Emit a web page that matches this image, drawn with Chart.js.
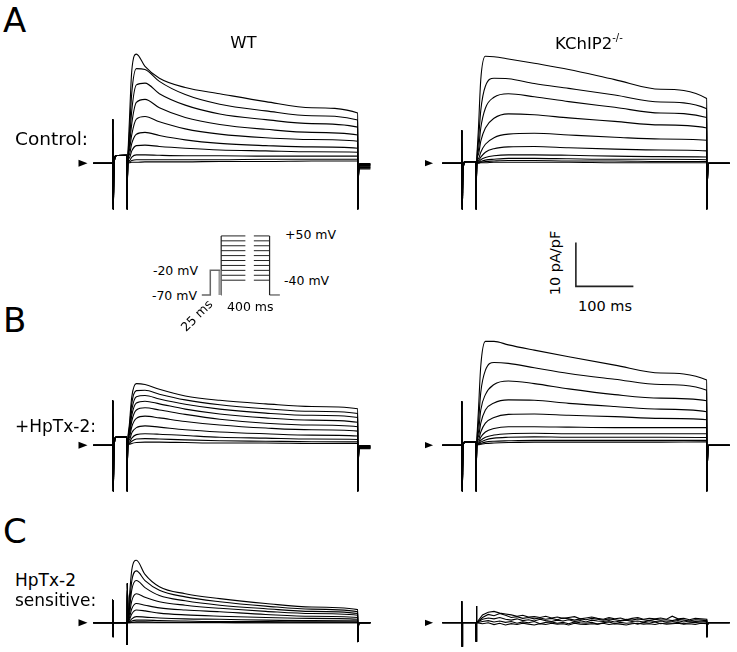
<!DOCTYPE html>
<html>
<head>
<meta charset="utf-8">
<script src="https://cdn.jsdelivr.net/npm/chart.js@4.4.1/dist/chart.umd.min.js"></script>
<style>
  html, body { margin: 0; padding: 0; background: #fff; overflow: hidden; }
  #fig { position: relative; width: 737px; height: 652px; font-family: "DejaVu Sans", Verdana, sans-serif; color: #000; }
  #fig canvas { position: absolute; }
  .lbl { position: absolute; white-space: nowrap; line-height: 1; }
</style>
</head>
<body>
<div id="fig"></div>
<script>
// sweep timing (ms)
const artT = [-60, -26.4, -26, -25.6, -25.1, -24.3, -23, -21, -1.6, -1.2, -0.6];
const stepT = [0, 3, 7, 15, 30, 55, 100, 160, 240, 320, 400];
const endT = [400.3, 401, 403];
const noiseT = [0, 10, 20, 30, 40, 50, 60, 70, 80, 90, 100, 110, 120, 130, 140, 150, 160, 170, 180, 190, 200,
  210, 220, 230, 240, 250, 260, 270, 280, 290, 300, 310, 320, 330, 340, 350, 360, 370, 380, 390, 400];

// A  Control, WT (pA/pF)
const wtCtrlArt = [0, 0, 10, -10.5, -10, -3, 0.8, 1.7, 1.8, -10.5, -4];
const wtCtrl = [
  [0, 10, 21, 24.8, 22, 19.3, 17.2, 15.8, 14.0, 12.6, 11.4],
  [0, 7, 16, 21.5, 21.3, 18.6, 15.6, 13.4, 11.9, 10.8, 9.8],
  [0, 5, 12, 17.8, 18.2, 15.8, 13.2, 11.2, 9.9, 9.0, 8.2],
  [0, 4, 9, 13.8, 14.5, 12.6, 10.4, 8.8, 7.7, 7.0, 6.4],
  [0, 3, 6.5, 10.0, 10.6, 9.4, 7.8, 6.6, 5.8, 5.4, 5.0],
  [0, 2, 4.5, 6.6, 7.0, 6.3, 5.3, 4.5, 4.0, 3.7, 3.4],
  [0, 1.2, 2.8, 4.0, 4.1, 3.8, 3.4, 3.0, 2.8, 2.6, 2.5],
  [0, 0.6, 1.4, 1.9, 1.9, 1.8, 1.7, 1.7, 1.6, 1.6, 1.6],
  [0, 0.3, 0.6, 0.8, 0.8, 0.8, 0.8, 0.8, 0.9, 0.9, 0.9],
  [0, 0.1, 0.2, 0.2, 0.3, 0.3, 0.3, 0.4, 0.4, 0.5, 0.5]
];
const wtCtrlEnd = [-10.5, -4];
const wtCtrlTail = [-1.3, -1.1, -0.95, -0.8, -0.65, -0.5, -0.4, -0.3, -0.2, -0.1];

// A  Control, KChIP2-/-
const koCtrlArt = [0, 0, 7.5, -10.5, -10, -3, -0.5, 0.3, 0.4, -10.5, -4];
const koCtrl = [
  [0, 8, 19, 24.3, 24.2, 23.7, 22.7, 21.3, 19.0, 16.8, 14.7],
  [0, 5, 12, 17.5, 19.3, 19.2, 18.1, 17.0, 15.5, 13.9, 12.4],
  [0, 3, 8, 12.5, 15.0, 15.8, 15.1, 14.0, 12.7, 11.4, 10.4],
  [0, 2, 5, 8, 10.2, 11.2, 11.0, 10.3, 9.5, 8.7, 8.0],
  [0, 1, 2.5, 4.3, 5.8, 6.6, 6.8, 6.4, 5.9, 5.5, 5.2],
  [0, 0.6, 1.4, 2.5, 3.3, 3.7, 3.8, 3.5, 3.2, 3.0, 2.8],
  [0, 0.3, 0.8, 1.3, 1.7, 1.9, 1.9, 1.8, 1.6, 1.5, 1.4],
  [0, 0.2, 0.4, 0.7, 0.9, 1.1, 1.1, 1.0, 0.9, 0.9, 0.8],
  [0, 0.1, 0.2, 0.4, 0.5, 0.6, 0.6, 0.5, 0.5, 0.4, 0.4],
  [0, 0, 0.1, 0.1, 0.2, 0.2, 0.2, 0.2, 0.1, 0.1, 0.1]
];
const koCtrlEnd = [-10.5, -5];
const koCtrlTail = [0, 0, 0, 0, 0, 0, 0, 0, 0, 0];

// B  +HpTx-2, WT
const wtHpArt = [0, 0, 10.2, -10.5, -10, -3, 0.8, 1.8, 1.9, -10.5, -4];
const wtHp = [
  [0, 5, 11, 14.0, 13.8, 12.7, 11.2, 10.2, 9.4, 8.8, 8.3],
  [0, 4, 9.5, 12.4, 12.5, 11.6, 10.3, 9.2, 8.3, 7.7, 7.2],
  [0, 3.5, 8, 11.0, 11.3, 10.5, 9.3, 8.2, 7.3, 6.8, 6.3],
  [0, 3, 6.8, 9.6, 10.0, 9.4, 8.2, 7.1, 6.2, 5.7, 5.2],
  [0, 2.4, 5.5, 8.0, 8.5, 8.0, 7.0, 5.9, 5.0, 4.6, 4.2],
  [0, 1.8, 4.2, 6.1, 6.6, 6.2, 5.4, 4.6, 3.9, 3.5, 3.2],
  [0, 1.2, 2.8, 4.0, 4.4, 4.1, 3.5, 3.0, 2.6, 2.3, 2.1],
  [0, 0.7, 1.6, 2.4, 2.6, 2.5, 2.2, 1.8, 1.6, 1.4, 1.3],
  [0, 0.4, 0.9, 1.4, 1.5, 1.4, 1.2, 1.0, 0.9, 0.8, 0.75],
  [0, 0.2, 0.4, 0.6, 0.7, 0.7, 0.6, 0.5, 0.5, 0.4, 0.4]
];
const wtHpEnd = [-10.5, -4];
const wtHpTail = [-0.8, -0.7, -0.65, -0.55, -0.5, -0.4, -0.3, -0.25, -0.15, -0.1];

// B  +HpTx-2, KChIP2-/-
const koHpArt = [0, 0, 10, -10.5, -10, -3, 0.3, 0.7, 0.75, -10.5, -4];
const koHp = [
  [0, 8, 18, 23.6, 23.6, 22.8, 21.6, 20.1, 18.2, 16.4, 14.8],
  [0, 5, 12, 17, 18.8, 18.6, 17.6, 16.3, 15.0, 13.8, 12.5],
  [0, 3, 8, 11.5, 13.8, 14.6, 14.0, 12.8, 11.5, 10.7, 10.1],
  [0, 2, 5, 8, 9.6, 10.3, 10.2, 9.5, 8.8, 8.2, 7.6],
  [0, 1.2, 3, 5, 6.3, 7.0, 7.1, 6.8, 6.5, 6.1, 5.8],
  [0, 0.7, 1.8, 3, 3.8, 4.2, 4.2, 4.1, 4.0, 4.0, 4.0],
  [0, 0.4, 1.1, 1.8, 2.3, 2.6, 2.7, 2.6, 2.6, 2.6, 2.6],
  [0, 0.3, 0.7, 1.2, 1.6, 1.8, 1.9, 1.8, 1.8, 1.8, 1.75],
  [0, 0.2, 0.4, 0.7, 0.9, 1.0, 1.1, 1.1, 1.1, 1.1, 1.1],
  [0, 0.1, 0.2, 0.4, 0.5, 0.6, 0.7, 0.7, 0.7, 0.7, 0.75]
];
const koHpEnd = [-10.5, -5];
const koHpTail = [0, 0, 0, 0, 0, 0, 0, 0, 0, 0];

// C  HpTx-2 sensitive, WT
const wtSensArt = [0, 0, 5.2, -3.2, -0.8, 0, 0, 0, 0, -5, 9];
const wtSens = [
  [0, 6, 12, 14.2, 11.0, 8.2, 6.6, 5.5, 4.4, 3.6, 3.0],
  [0, 4, 9.5, 11.8, 9.6, 7.4, 5.9, 4.8, 3.8, 3.1, 2.5],
  [0, 3, 7.5, 9.6, 8.0, 6.2, 5.0, 4.0, 3.2, 2.6, 2.1],
  [0, 2, 5, 6.6, 5.8, 4.8, 4.0, 3.3, 2.6, 2.1, 1.7],
  [0, 1.2, 3.2, 4.4, 4.0, 3.4, 2.9, 2.5, 1.9, 1.5, 1.2],
  [0, 0.7, 2.0, 2.9, 2.7, 2.2, 1.8, 1.5, 1.2, 1.0, 0.8],
  [0, 0.3, 0.9, 1.4, 1.3, 1.1, 0.9, 0.8, 0.6, 0.5, 0.45],
  [0, 0.1, 0.4, 0.6, 0.6, 0.5, 0.4, 0.3, 0.3, 0.2, 0.2],
  [0, 0, 0.1, 0.2, 0.2, 0.1, 0.1, 0.1, 0, 0, 0],
  [0, 0, 0, 0, 0, 0, 0, 0, 0, 0, 0]
];
const wtSensEnd = [-4.3, -1];
const wtSensTail = [0, 0, 0, 0, 0, 0, 0, 0, 0, 0];

// C  HpTx-2 sensitive, KChIP2-/-  (noisy, sampled every 10 ms)
const koSensArt = [0, 0, 4.9, -5.3, -1, 0, 0, 0, 0, -4.2, 3.8];
const koSens = [
  [0, 1.8, 2.4, 2.6, 2.2, 2.0, 1.8, 1.5, 1.7, 1.3, 1.4, 1.2, 1.5, 1.1, 1.3, 1.0, 1.2, 1.4, 0.9, 1.1, 1.3, 1.0, 0.8, 1.2, 0.9, 1.1, 0.7, 1.0, 1.2, 0.8, 1.0, 0.9, 1.1, 0.8, 1.5, 0.9, 1.0, 0.7, 1.0, 0.9, 0.8],
  [0, 1.2, 1.9, 1.6, 2.1, 1.7, 1.2, 1.4, 1.0, 1.2, 0.9, 1.1, 0.8, 1.0, 0.7, 1.1, 0.9, 0.6, 0.9, 0.7, 1.0, 0.8, 0.6, 0.9, 0.7, 0.5, 0.8, 0.6, 0.9, 0.7, 0.5, 0.8, 0.6, 0.7, 0.5, 0.8, 0.6, 0.4, 0.7, 0.6, 0.5],
  [0, 0.8, 1.1, 0.9, 1.2, 0.8, 0.6, 0.9, 0.5, 0.7, 0.4, 0.8, 0.5, 0.3, 0.6, 0.4, 0.7, 0.3, 0.5, 0.2, 0.6, 0.4, 0.3, 0.5, 0.2, 0.4, 0.6, 0.3, 0.4, 0.2, 0.5, 0.3, 0.4, 0.2, 0.3, 0.5, 0.2, 0.4, 0.3, 0.2, 0.3],
  [0, 0.3, 0.5, 0.2, 0.4, 0.1, 0.3, -0.1, 0.2, 0.0, 0.3, -0.2, 0.1, 0.2, -0.1, 0.1, -0.2, 0.2, 0.0, -0.1, 0.1, -0.3, 0.0, 0.2, -0.2, 0.1, -0.1, 0.0, -0.3, 0.1, -0.1, 0.2, -0.2, 0.0, -0.1, 0.1, -0.2, 0.0, 0.1, -0.1, 0.0],
  [0, -0.2, 0.0, -0.4, -0.1, -0.5, -0.2, -0.4, -0.1, -0.3, -0.5, -0.2, -0.4, -0.1, -0.3, -0.2, -0.5, -0.1, -0.3, -0.4, -0.2, -0.3, -0.1, -0.4, -0.2, -0.3, -0.5, -0.2, -0.1, -0.3, -0.2, -0.4, -0.1, -0.3, -0.2, -0.1, -0.3, -0.2, -0.4, -0.1, -0.2]
];
const koSensEnd = [-3.3, -0.5];
const koSensTail = [0, 0, 0, 0, 0];

// voltage protocol (schematic, mV)
const protoHold = -70;
const protoPre = -20;
const protoLevels = [50, 40, 30, 20, 10, 0, -10, -20, -30, -40];
const protoTimes = [-160, -90, -10, 0, 200, 270, 400, 485];

// scale bar
const barMs = 100;
const barPa = 10;

// ---------------------------------------------------------------
const PX_MS = 0.575;
const PX_PA = 4.4;
const fig = document.getElementById('fig');

const zeroArrow = {
  id: 'zeroArrow',
  afterDatasetsDraw(chart, args, opts) {
    if (opts.at === undefined) return;
    const ctx = chart.ctx;
    const x = chart.scales.x.getPixelForValue(opts.at);
    const y = chart.scales.y.getPixelForValue(0);
    ctx.save();
    ctx.fillStyle = '#000';
    ctx.beginPath();
    ctx.moveTo(x, y);
    ctx.lineTo(x - 9, y - 3.5);
    ctx.lineTo(x - 9, y + 3.5);
    ctx.closePath();
    ctx.fill();
    ctx.restore();
  }
};

// origin = pixel of (0 ms, 0 units)
function makeChart(ox, oy, xMin, xMax, yMin, yMax, pxX, pxY, datasets, arrowAt) {
  const c = document.createElement('canvas');
  const w = (xMax - xMin) * pxX, h = (yMax - yMin) * pxY;
  c.width = Math.round(w);
  c.height = Math.round(h);
  c.style.left = (ox + xMin * pxX) + 'px';
  c.style.top = (oy - yMax * pxY) + 'px';
  fig.appendChild(c);
  new Chart(c, {
    type: 'line',
    data: { datasets: datasets },
    plugins: [zeroArrow],
    options: {
      responsive: false,
      animation: false,
      events: [],
      layout: { padding: 0 },
      parsing: false,
      normalized: true,
      scales: {
        x: { type: 'linear', min: xMin, max: xMin + c.width / pxX, display: false },
        y: { type: 'linear', min: yMax - c.height / pxY, max: yMax, display: false }
      },
      elements: { point: { radius: 0 } },
      plugins: { legend: { display: false }, tooltip: { enabled: false }, zeroArrow: { at: arrowAt } }
    }
  });
}

function sweep(art, vals, times, end, tail, tailEnd) {
  const pts = [];
  artT.forEach((t, i) => pts.push({ x: t, y: art[i] }));
  times.forEach((t, i) => pts.push({ x: t, y: vals[i] }));
  pts.push({ x: endT[0], y: end[0] });
  pts.push({ x: endT[1], y: end[1] });
  pts.push({ x: endT[2], y: tail });
  pts.push({ x: tailEnd, y: tail });
  return pts;
}

function traceSets(art, traces, times, end, tails, tailEnd, smooth) {
  return traces.map((v, i) => ({
    data: sweep(art, v, times, end, tails[i], tailEnd),
    borderColor: '#000',
    borderWidth: 1.1,
    cubicInterpolationMode: smooth ? 'monotone' : 'default',
    tension: 0,
    fill: false
  }));
}

const LX = 127.5, RX = 477;
makeChart(LX, 163, -90, 445, -12, 28, PX_MS, PX_PA, traceSets(wtCtrlArt, wtCtrl, stepT, wtCtrlEnd, wtCtrlTail, 422, true), -70);
makeChart(RX, 163, -90, 445, -12, 28, PX_MS, PX_PA, traceSets(koCtrlArt, koCtrl, stepT, koCtrlEnd, koCtrlTail, 440, true), -76);
makeChart(LX, 445, -90, 445, -12, 28, PX_MS, PX_PA, traceSets(wtHpArt, wtHp, stepT, wtHpEnd, wtHpTail, 422, true), -70);
makeChart(RX, 445, -90, 445, -12, 28, PX_MS, PX_PA, traceSets(koHpArt, koHp, stepT, koHpEnd, koHpTail, 440, true), -76);
makeChart(LX, 623, -90, 445, -7, 17, PX_MS, PX_PA, traceSets(wtSensArt, wtSens, stepT, wtSensEnd, wtSensTail, 422, true), -70);
makeChart(RX, 623, -90, 445, -7, 17, PX_MS, PX_PA, traceSets(koSensArt, koSens, noiseT, koSensEnd, koSensTail, 440, false), -76);

// voltage protocol
const pt = protoTimes;
const protoSets = [
  { data: [{ x: pt[0], y: protoHold }, { x: pt[1], y: protoHold }, { x: pt[1] + 0.1, y: protoPre }, { x: pt[2], y: protoPre }],
    borderColor: '#666', borderWidth: 1.5 },
  { data: [{ x: pt[2], y: protoPre }, { x: pt[2] + 0.1, y: protoHold }], borderColor: '#999', borderWidth: 3 },
  { data: [{ x: pt[3], y: protoHold }, { x: pt[3] + 0.1, y: protoLevels[0] }], borderColor: '#222', borderWidth: 1.2 },
  { data: [{ x: pt[6], y: protoLevels[0] }, { x: pt[6] + 0.1, y: protoHold }], borderColor: '#222', borderWidth: 1.2 },
  { data: [{ x: pt[6], y: protoHold }, { x: pt[7], y: protoHold }], borderColor: '#777', borderWidth: 1.5 }
];
protoLevels.forEach(v => protoSets.push({
  data: [{ x: pt[3], y: v }, { x: pt[4], y: v }, { x: (pt[4] + pt[5]) / 2, y: null }, { x: pt[5], y: v }, { x: pt[6], y: v }],
  borderColor: '#222', borderWidth: 1, spanGaps: false
}));
makeChart(220.7, 260.3, -175, 500, -80, 60, 0.121, 0.492, protoSets);

// scale bar
makeChart(576, 286.7, -5, 110, -1, 11, PX_MS, PX_PA, [
  { data: [{ x: 0, y: barPa }, { x: 0.01, y: 0 }, { x: barMs, y: 0 }], borderColor: '#222', borderWidth: 1.6 }
]);

// text
function label(html, x, base, size, align, rot) {
  const d = document.createElement('div');
  d.className = 'lbl';
  d.innerHTML = html;
  d.style.fontSize = size + 'px';
  if (rot !== undefined) {
    d.style.left = x + 'px';
    d.style.top = base + 'px';
    d.style.transform = 'translate(-50%, -50%) rotate(' + rot + 'deg)';
  } else {
    d.style.left = x + 'px';
    d.style.top = (base - 0.846 * size) + 'px';
    if (align === 'center') d.style.transform = 'translateX(-50%)';
    if (align === 'right') d.style.transform = 'translateX(-100%)';
  }
  fig.appendChild(d);
}
label('A', 3, 32, 34);
label('B', 3, 332, 34);
label('C', 3, 543, 34);
label('WT', 243.5, 49, 16.5, 'center');
label('KChIP2<span style="font-size:10px;position:relative;top:-8px">-/-</span>', 555, 50, 16.5);
label('Control:', 15, 146, 18.5);
label('+HpTx-2:', 15, 432, 17);
label('HpTx-2', 15, 586, 17);
label('sensitive:', 15, 606, 17);
label('+50 mV', 285, 240, 12.5);
label('-40 mV', 284, 285.5, 12.5);
label('-20 mV', 198, 276, 12.5, 'right');
label('-70 mV', 197, 301, 12.5, 'right');
label('400 ms', 227, 311.5, 12.5);
label('25 ms', 197, 316, 12.5, null, -45);
label('10 pA/pF', 555, 263, 14.5, null, -90);
label('100 ms', 578, 311.5, 14.5);
</script>
</body>
</html>
